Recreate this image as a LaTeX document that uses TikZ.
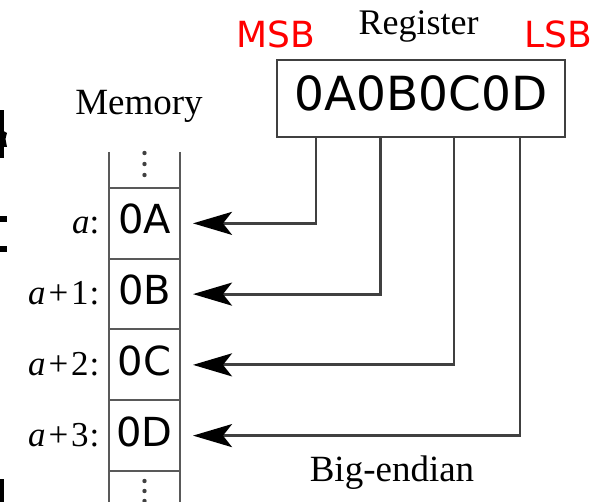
\documentclass[tikz,border=0pt]{standalone}
\usepackage{fontspec}
\setmainfont{Liberation Serif}
\newfontfamily\dvsans{DejaVu Sans}
\usetikzlibrary{arrows.meta}

\begin{document}
\begin{tikzpicture}[x=1pt,y=-1pt,
  caption/.style={anchor=base, font=\fontsize{36}{40}\selectfont},
  bitlabel/.style={anchor=base, text=red, font=\dvsans\fontsize{36}{40}\selectfont},
  regbox/.style={draw=black!75, line width=2.2pt, minimum width=288pt, minimum height=77pt,
    inner sep=0pt, text height=34.3pt, text depth=10pt, font=\dvsans\fontsize{47}{52}\selectfont},
  cell/.style={draw=black!65, line width=2pt, minimum width=71pt, minimum height=70.75pt,
    inner sep=0pt, text height=29pt, text depth=8pt, font=\dvsans\fontsize{40}{44}\selectfont},
  addr/.style={anchor=base east, font=\fontsize{35}{39}\selectfont},
  column/.style={draw=black!65, line width=2pt},
  conn/.style={draw=black!75, line width=2.8pt,
    -{Stealth[length=39pt,width=23pt,inset=9pt,color=black]}, shorten >=12pt},
  dot/.style={fill=black!75, draw=none},
  cut/.style={fill=black, draw=none}
]
\useasboundingbox (0,0) rectangle (603,502);

% headings
\node[caption] (regtitle) at (418.5,35) {Register};
\node[bitlabel] (msb) at (276,48) {MSB};
\node[bitlabel] (lsb) at (558.5,48) {LSB};
\node[caption, font=\fontsize{37}{41}\selectfont] (memtitle) at (139,115) {Memory};

% register
\node[regbox] (reg) at (421,98.5) {0A0B0C0D};

% memory column: open ends above and below the four cells
\draw[column] (109,152) -- (109,188) (180,152) -- (180,188);
\draw[column] (109,471) -- (109,503) (180,471) -- (180,503);
\foreach \y in {153,164,175,481,491,501}
  \fill[dot] (144.5,\y) circle (2.2);

\node[cell] (mA) at (144.5,223.375) {0A};
\node[cell] (mB) at (144.5,294.125) {0B};
\node[cell] (mC) at (144.5,364.875) {0C};
\node[cell] (mD) at (144.5,435.625) {0D};

% addresses
\node[addr] (aA) at (103,234) {\textit{a}:};
\node[addr] (aB) at (103,304.75) {\textit{a}\kern3pt+\kern3pt1\kern1pt:};
\node[addr] (aC) at (103,375.5) {\textit{a}\kern3pt+\kern3pt2\kern1pt:};
\node[addr] (aD) at (103,446.25) {\textit{a}\kern3pt+\kern3pt3\kern1pt:};

% taps on the register's lower edge
\coordinate (t1) at (316,137);
\coordinate (t2) at (380.5,137);
\coordinate (t3) at (454,137);
\coordinate (t4) at (520,137);

\draw[conn] (t1) |- (mA.east);
\draw[conn] (t2) |- (mB.east);
\draw[conn] (t3) |- (mC.east);
\draw[conn] (t4) |- (mD.east);

\node[caption, font=\fontsize{37}{41}\selectfont] (endian) at (392,482) {Big-endian};

% glyph fragments cut off at the left edge
\fill[cut] (0,110) rectangle (3.5,158);
\fill[cut] (3.5,131) -- (7,133) -- (5.5,139) -- (7,147) -- (3.5,147) -- cycle;
\fill[cut] (0,216) rectangle (7,222);
\fill[cut] (0,246) rectangle (7,252);
\fill[cut] (0,479) rectangle (4,502);
\end{tikzpicture}
\end{document}
